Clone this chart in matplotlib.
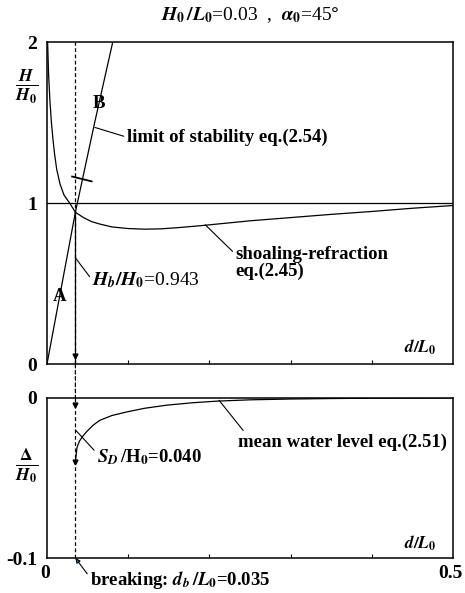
import numpy as np
import matplotlib
matplotlib.use("Agg")
import matplotlib.pyplot as plt
from matplotlib.patches import ConnectionPatch

plt.rcParams.update({
    "font.family": "Liberation Serif",
    "font.weight": "bold",
    "mathtext.fontset": "stix",
})

# ── Data ───────────────────────────────────────────────────────────────────
# shoaling-refraction wave height H/H0 vs relative depth d/L0
d_shoal = [0.0008, 0.002, 0.0037, 0.0055, 0.0075, 0.0095, 0.012, 0.016, 0.021,
           0.028, 0.035, 0.045, 0.055, 0.065, 0.08, 0.10, 0.12, 0.14, 0.16,
           0.19, 0.22, 0.25, 0.30, 0.35, 0.40, 0.45, 0.50]
H_shoal = [2.0, 1.80, 1.63, 1.50, 1.39, 1.30, 1.21, 1.12, 1.05,
           1.0, 0.943, 0.91, 0.885, 0.87, 0.852, 0.842, 0.838, 0.84, 0.847,
           0.86, 0.875, 0.89, 0.91, 0.93, 0.948, 0.968, 0.985]

# limit of stability (line A-B)
d_stab = [0.0, 0.035, 0.059, 0.081]
H_stab = [0.0, 0.943, 1.506, 2.0]

# mean water level (set-down) Δ/H0
d_mwl = [0.035, 0.037, 0.040, 0.044, 0.049, 0.057, 0.065, 0.080, 0.098,
         0.12, 0.148, 0.18, 0.21, 0.25, 0.30, 0.35, 0.40, 0.50]
eta_mwl = [-0.040, -0.031, -0.027, -0.024, -0.021, -0.017, -0.014, -0.011,
           -0.0088, -0.0065, -0.0045, -0.003, -0.002, -0.0012, -0.0007,
           -0.0004, -0.0002, 0.0]

d_break = 0.035
Hb_H0 = 0.943
SD_H0 = 0.040

# ── Figure ─────────────────────────────────────────────────────────────────
fig = plt.figure(figsize=(4.65, 5.93), dpi=100)
ax1 = fig.add_axes([0.101, 0.386, 0.873, 0.543])
ax2 = fig.add_axes([0.101, 0.059, 0.873, 0.270])

LW = 0.9
FS = 13.5
DASH = (0, (3, 2))
leader = dict(arrowstyle="-", lw=0.8, shrinkA=0, shrinkB=0)

for ax in (ax1, ax2):
    ax.set_xlim(0, 0.5)
    for s in ax.spines.values():
        s.set_linewidth(1.1)
    ax.tick_params(axis="x", direction="in", length=3, width=0.8,
                   labelbottom=False)
    ax.tick_params(axis="y", length=0, labelsize=14, pad=7)
    ax.set_xticks([0.1, 0.2, 0.3, 0.4])

# ── top panel ──
ax1.set_ylim(0, 2)
ax1.set_yticks([0, 1, 2])
ax1.set_yticklabels(["0", "1", "2"])
ax1.axhline(1.0, color="black", lw=LW)
ax1.plot(d_shoal, H_shoal, color="black", lw=LW)
ax1.plot(d_stab, H_stab, color="black", lw=LW)
# short mark across line B
ax1.plot([0.031, 0.055], [1.165, 1.135], color="black", lw=1.3)
ax1.axvline(d_break, color="black", lw=LW, ls=DASH)
ax1.plot([d_break, d_break], [0, Hb_H0], color="black", lw=LW)
ax1.plot(d_break, 0.05, marker="v", color="black", ms=3.5, clip_on=False)

ax1.text(0.016, 0.42, "A", fontsize=FS, ha="center", va="center")
ax1.text(0.0635, 1.62, "B", fontsize=FS, ha="center", va="center")

ax1.annotate("limit of stability eq.(2.54)", xy=(0.059, 1.47),
             xytext=(0.098, 1.41), fontsize=FS, va="center",
             arrowprops=dict(leader, relpos=(0, 0.5)))
ax1.annotate("shoaling-refraction\neq.(2.45)", xy=(0.195, 0.865),
             xytext=(0.232, 0.63), fontsize=FS, va="center", linespacing=1.0,
             arrowprops=dict(leader, relpos=(0, 0.75)))
ax1.annotate(r"$H_b/H_0$" + f"={Hb_H0:.3f}", xy=(d_break, 0.66),
             xytext=(0.056, 0.52), fontsize=14, va="center",
             fontweight="normal",
             arrowprops=dict(leader, relpos=(0, 0.5)))
ax1.text(0.48, 0.105, r"$d/L_0$", fontsize=12.5, ha="right", va="center")

ax1.text(-0.025, 1.72, r"$\frac{H}{H_0}$", fontsize=18, ha="center",
         va="center")
ax1.text(0.25, 2.168, r"$H_0\,/L_0$=0.03  ,  $\alpha_0$=45$\degree$",
         fontsize=14, ha="center", va="center", fontweight="normal")

# ── bottom panel ──
ax2.set_ylim(-0.1, 0)
ax2.set_yticks([-0.1, 0])
ax2.set_yticklabels(["-0.1", "0"])
ax2.plot(d_mwl, eta_mwl, color="black", lw=LW)
ax2.axvline(d_break, color="black", lw=LW, ls=DASH)
ax2.plot(d_break, -0.0045, marker="v", color="black", ms=3.5)
ax2.plot(d_break, -SD_H0, marker="v", color="black", ms=3.5)

ax2.annotate(r"$S_D\,$/H$_0$" + f"={SD_H0:.3f}", xy=(d_break, -0.020),
             xytext=(0.0615, -0.037), fontsize=FS, va="center",
             arrowprops=dict(leader, relpos=(0, 0.7)))
ax2.annotate("mean water level eq.(2.51)", xy=(0.212, -0.0015),
             xytext=(0.235, -0.0275), fontsize=FS, va="center",
             arrowprops=dict(leader, relpos=(0.05, 0.8)))
ax2.text(0.48, -0.091, r"$d/L_0$", fontsize=12.5, ha="right", va="center")
ax2.text(-0.025, -0.042, r"$\frac{\mathit{\Delta}}{H_0}$", fontsize=18,
         ha="center", va="center")

# x tick labels only at the ends
ax2.text(-0.002, -0.1095, "0", fontsize=14, ha="center", va="center")
ax2.text(0.497, -0.1095, "0.5", fontsize=14, ha="center", va="center")

ax2.annotate(r"breaking: $d_b\,/L_0$" + f"={d_break:.3f}", xy=(d_break, -0.1),
             xytext=(0.053, -0.1135), fontsize=FS, va="center",
             annotation_clip=False,
             arrowprops=dict(leader, arrowstyle="-|>", mutation_scale=7,
                             relpos=(0, 0.6)))

# dashed breaking line between the panels
con = ConnectionPatch(xyA=(d_break, 0), coordsA=ax1.transData,
                      xyB=(d_break, 0), coordsB=ax2.transData,
                      color="black", lw=LW, ls=DASH)
fig.add_artist(con)

fig.savefig("out.png", dpi=100)
